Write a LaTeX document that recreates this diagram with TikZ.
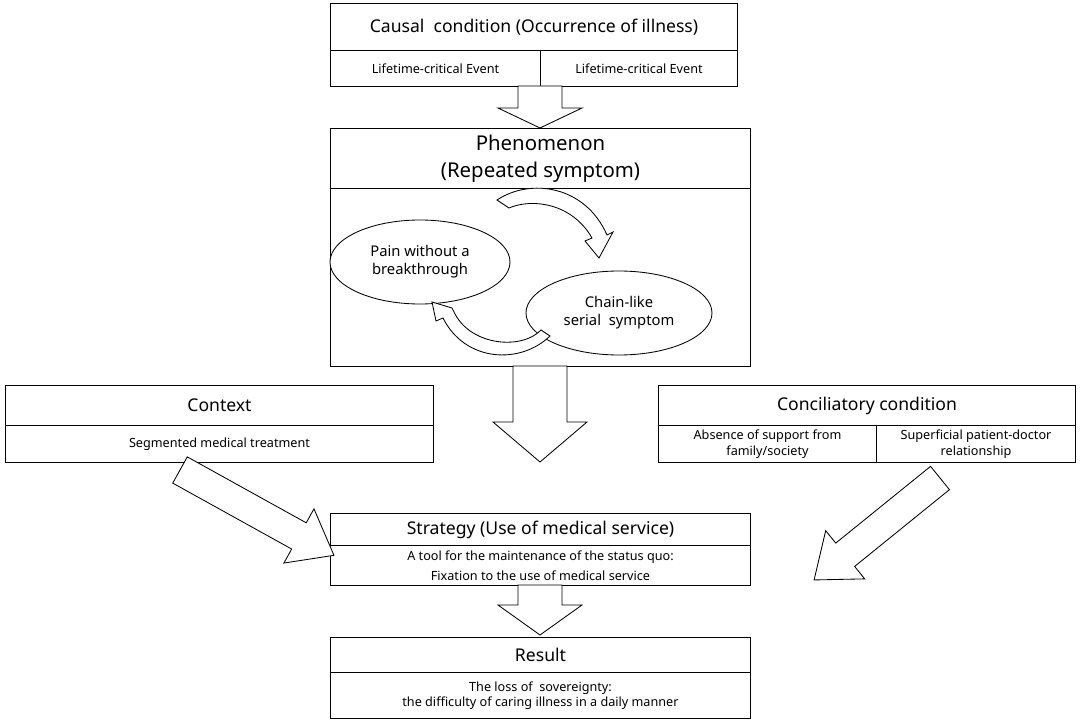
\documentclass[tikz,border=0pt]{standalone}
\usepackage{fontspec}
\setmainfont{Noto Sans}
\usetikzlibrary{shapes,arrows,positioning}
\def\u{0.025cm}
% block arrow: start x, start y, angle, length, half shaft, half head, head length
\newcommand\blockarrow[7]{%
  \draw[bigarrow, shift={(#1,#2)}, rotate=#3]
    (0,-#5) -- (#4-#7,-#5) -- (#4-#7,-#6) -- (#4,0) -- (#4-#7,#6) -- (#4-#7,#5) -- (0,#5) -- cycle;}
\begin{document}
\begin{tikzpicture}[x=\u, y=-\u,
    box/.style={draw, rectangle, anchor=north west, inner sep=0pt, align=center, line width=0.7pt},
    title/.style={box, font=\fontsize{12.5}{14}\selectfont},
    sub/.style={box, font=\fontsize{9}{11}\selectfont},
    bigarrow/.style={draw, fill=white, line width=0.6pt},
    loop/.style={ellipse, draw, fill=white, line width=0.6pt, font=\bfseries\fontsize{10.5}{13}\selectfont, align=center}]
    \useasboundingbox (0,0) rectangle (1081,722);

    % top
    \node (causal) [title, minimum width=407*\u, minimum height=47*\u] at (330,3) {Causal\ \ condition (Occurrence of illness)};
    \node (event1) [sub, minimum width=210*\u, minimum height=36*\u] at (330,50) {Lifetime-critical Event};
    \node (event2) [sub, minimum width=197*\u, minimum height=36*\u] at (540,50) {Lifetime-critical Event};

    % phenomenon
    \node (phen) [box, font=\fontsize{14.5}{19}\selectfont, minimum width=420*\u, minimum height=60*\u] at (330,128) {Phenomenon\\(Repeated symptom)};
    \node (phenbody) [box, minimum width=420*\u, minimum height=178*\u] at (330,188) {};
    \node (pain) [loop, minimum width=180*\u, minimum height=84*\u] at (420,262) {Pain without a\\breakthrough};
    \node (chain) [loop, minimum width=186*\u, minimum height=84*\u] at (619,313) {Chain-like\\serial\ \ symptom};
    \draw[fill=white, line width=0.6pt] (497,200) .. controls (530,178) and (585,185) .. (607,235)
        -- (613,232) -- (599,258) -- (585,241) -- (592,238)
        .. controls (572,203) and (532,198) .. (509,208) -- cycle;
    \draw[fill=white, line width=0.6pt] (550,336) .. controls (520,365) and (465,362) .. (443,318)
        -- (436,321) -- (432,302) -- (452,308) -- (455,314)
        .. controls (472,346) and (522,350) .. (541,330) -- cycle;

    % context and conciliatory condition
    \node (context) [title, minimum width=428*\u, minimum height=40*\u] at (5,385) {Context};
    \node (segment) [sub, minimum width=428*\u, minimum height=37*\u] at (5,425) {Segmented medical treatment};
    \node (concil) [title, minimum width=417*\u, minimum height=40*\u] at (658,385) {Conciliatory condition};
    \node (absence) [sub, minimum width=218*\u, minimum height=37*\u] at (658,425) {Absence of support from\\family/society};
    \node (superf) [sub, minimum width=199*\u, minimum height=37*\u] at (876,425) {Superficial patient-doctor\\relationship};

    % strategy and result
    \node (strat) [title, minimum width=420*\u, minimum height=32*\u] at (330,513) {Strategy (Use of medical service)};
    \node (tool) [sub, minimum width=420*\u, minimum height=40*\u] at (330,545) {A tool for the maintenance of the status quo:\\[3pt]Fixation to the use of medical service};
    \node (result) [title, minimum width=420*\u, minimum height=35*\u] at (330,637) {Result};
    \node (loss) [sub, minimum width=420*\u, minimum height=46*\u] at (330,672) {The loss of\ \ sovereignty:\\the difficulty of caring illness in a daily manner};

    % block arrows
    \blockarrow{540}{86}{-90}{42}{22}{42}{20}
    \blockarrow{540}{366}{-90}{96}{27}{47}{40}
    \blockarrow{540}{585}{-90}{50}{22}{42}{30}
    \blockarrow{180}{470}{-29}{176}{15}{31}{40}
    \blockarrow{940}{478}{-141}{162}{15}{31}{40}

\end{tikzpicture}
\end{document}
